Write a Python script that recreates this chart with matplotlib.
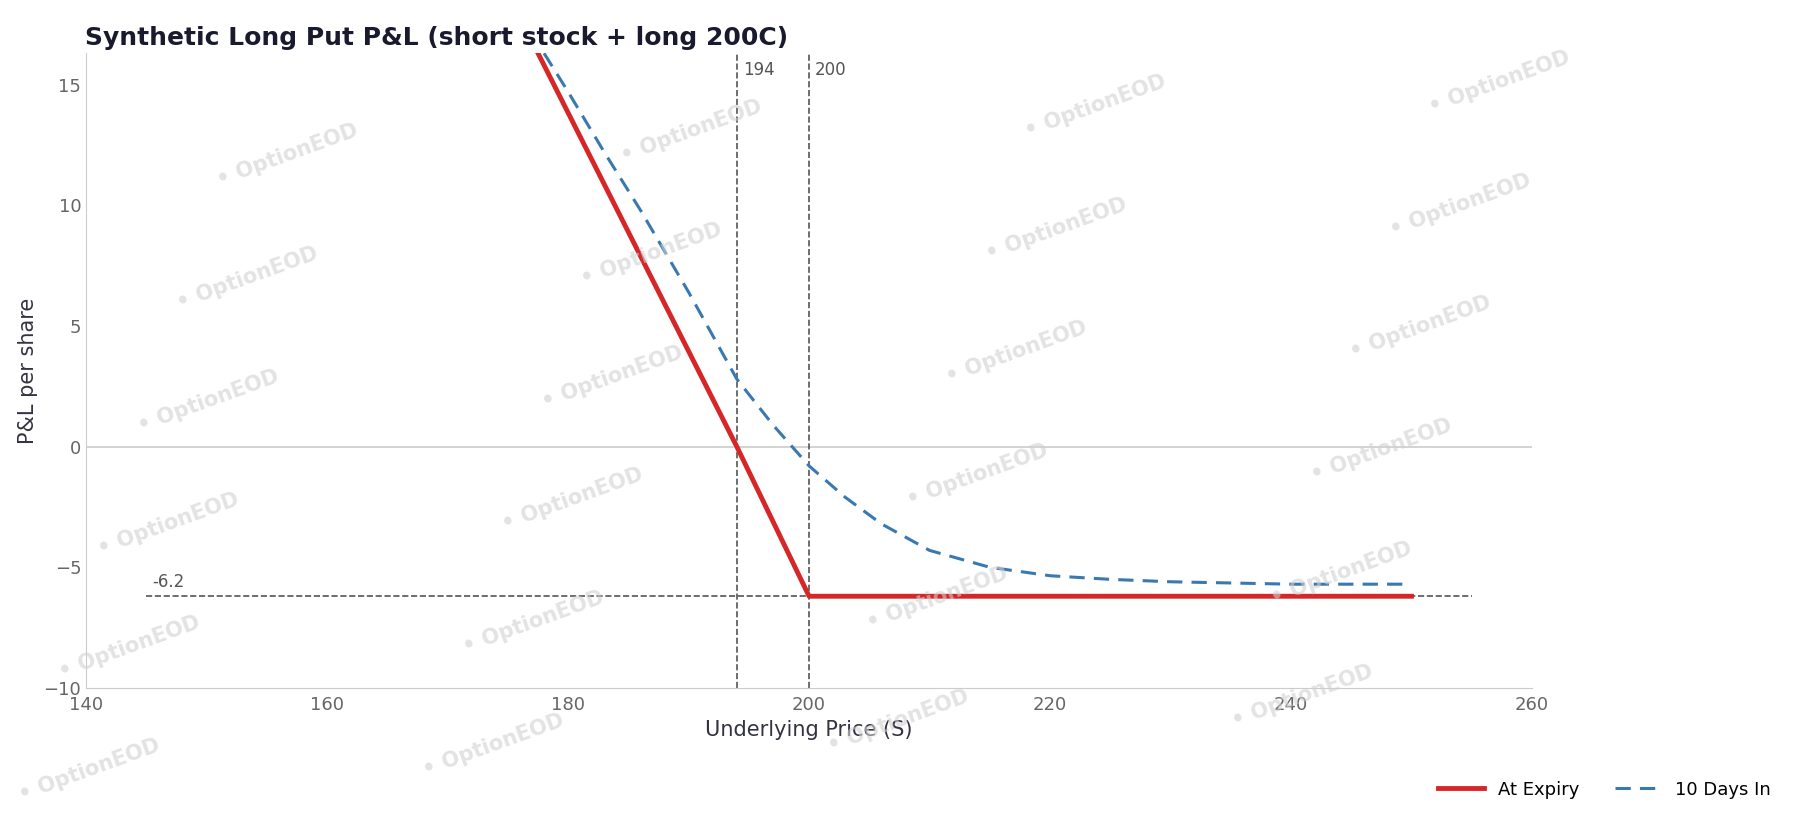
import matplotlib
matplotlib.use("Agg")
import matplotlib.pyplot as plt
import numpy as np

expiry_S = [177.5, 194, 200, 250]
expiry_pnl = [16.3, 0.0, -6.2, -6.2]
days_S = [178, 180, 183, 186, 190, 194, 197, 200, 203, 206, 210, 215, 220, 225, 230, 240, 250]
days_pnl = [16.3, 14.7, 12.2, 9.8, 6.4, 2.8, 0.9, -0.8, -2.1, -3.2, -4.3, -5.0, -5.35, -5.5, -5.6, -5.7, -5.7]
breakeven = 194
strike = 200
max_loss = -6.2

fig = plt.figure(figsize=(17.96, 8.19), dpi=100)
ax = fig.add_axes([0.048, 0.16, 0.805, 0.775])

# watermarks
for i in range(0, 5):
    for j in range(0, 6):
        fx = 0.05 + i * 0.225 + j * 0.022
        fy = 0.06 + j * 0.15 + i * 0.03
        if 0.03 < fx < 0.95 and 0.03 < fy < 0.95:
            fig.text(fx, fy, "\u2022 OptionEOD", color="#d0d0d0", alpha=0.6, fontsize=15,
                     fontweight="bold", rotation=20, ha="center", va="center", zorder=0)

ax.axhline(0, color="#cccccc", lw=1.2)
ax.plot(expiry_S, expiry_pnl, color="#d62728", lw=3.5, label="At Expiry", zorder=3)
ax.plot(days_S, days_pnl, color="#3a78b0", lw=2.2, ls=(0, (5, 3)), label="10 Days In", zorder=3)
ax.axvline(breakeven, color="#555555", ls="--", lw=1.2)
ax.axvline(strike, color="#555555", ls="--", lw=1.2)
ax.plot([145, 255], [max_loss, max_loss], color="#555555", ls="--", lw=1.2)
ax.text(breakeven + 0.5, 15.6, "194", color="#555555", fontsize=12, va="center")
ax.text(strike + 0.5, 15.6, "200", color="#555555", fontsize=12, va="center")
ax.text(145.5, max_loss + 0.2, "-6.2", color="#555555", fontsize=12, va="bottom")

ax.set_xlim(140, 260)
ax.set_ylim(-10, 16.3)
ax.set_xticks(range(140, 261, 20))
ax.set_yticks(range(-10, 16, 5))
ax.set_yticklabels(["\u221210", "\u22125", "0", "5", "10", "15"])
ax.tick_params(colors="#666666", labelsize=13, length=0)
ax.tick_params(axis="x", pad=6)
for s in ["top", "right"]:
    ax.spines[s].set_visible(False)
for s in ["left", "bottom"]:
    ax.spines[s].set_color("#cccccc")
ax.set_facecolor("none")
ax.set_xlabel("Underlying Price (S)", fontsize=15, color="#333344")
ax.set_ylabel("P&L per share", fontsize=15, color="#333344")
ax.set_title("Synthetic Long Put P&L (short stock + long 200C)", fontsize=18,
             fontweight="bold", color="#1a1a2e", loc="left", x=-0.001)
fig.legend(loc="lower right", bbox_to_anchor=(0.995, 0.005), ncol=2, frameon=False,
           fontsize=13, handlelength=2.5, columnspacing=2)
fig.savefig("out.png", dpi=100)
